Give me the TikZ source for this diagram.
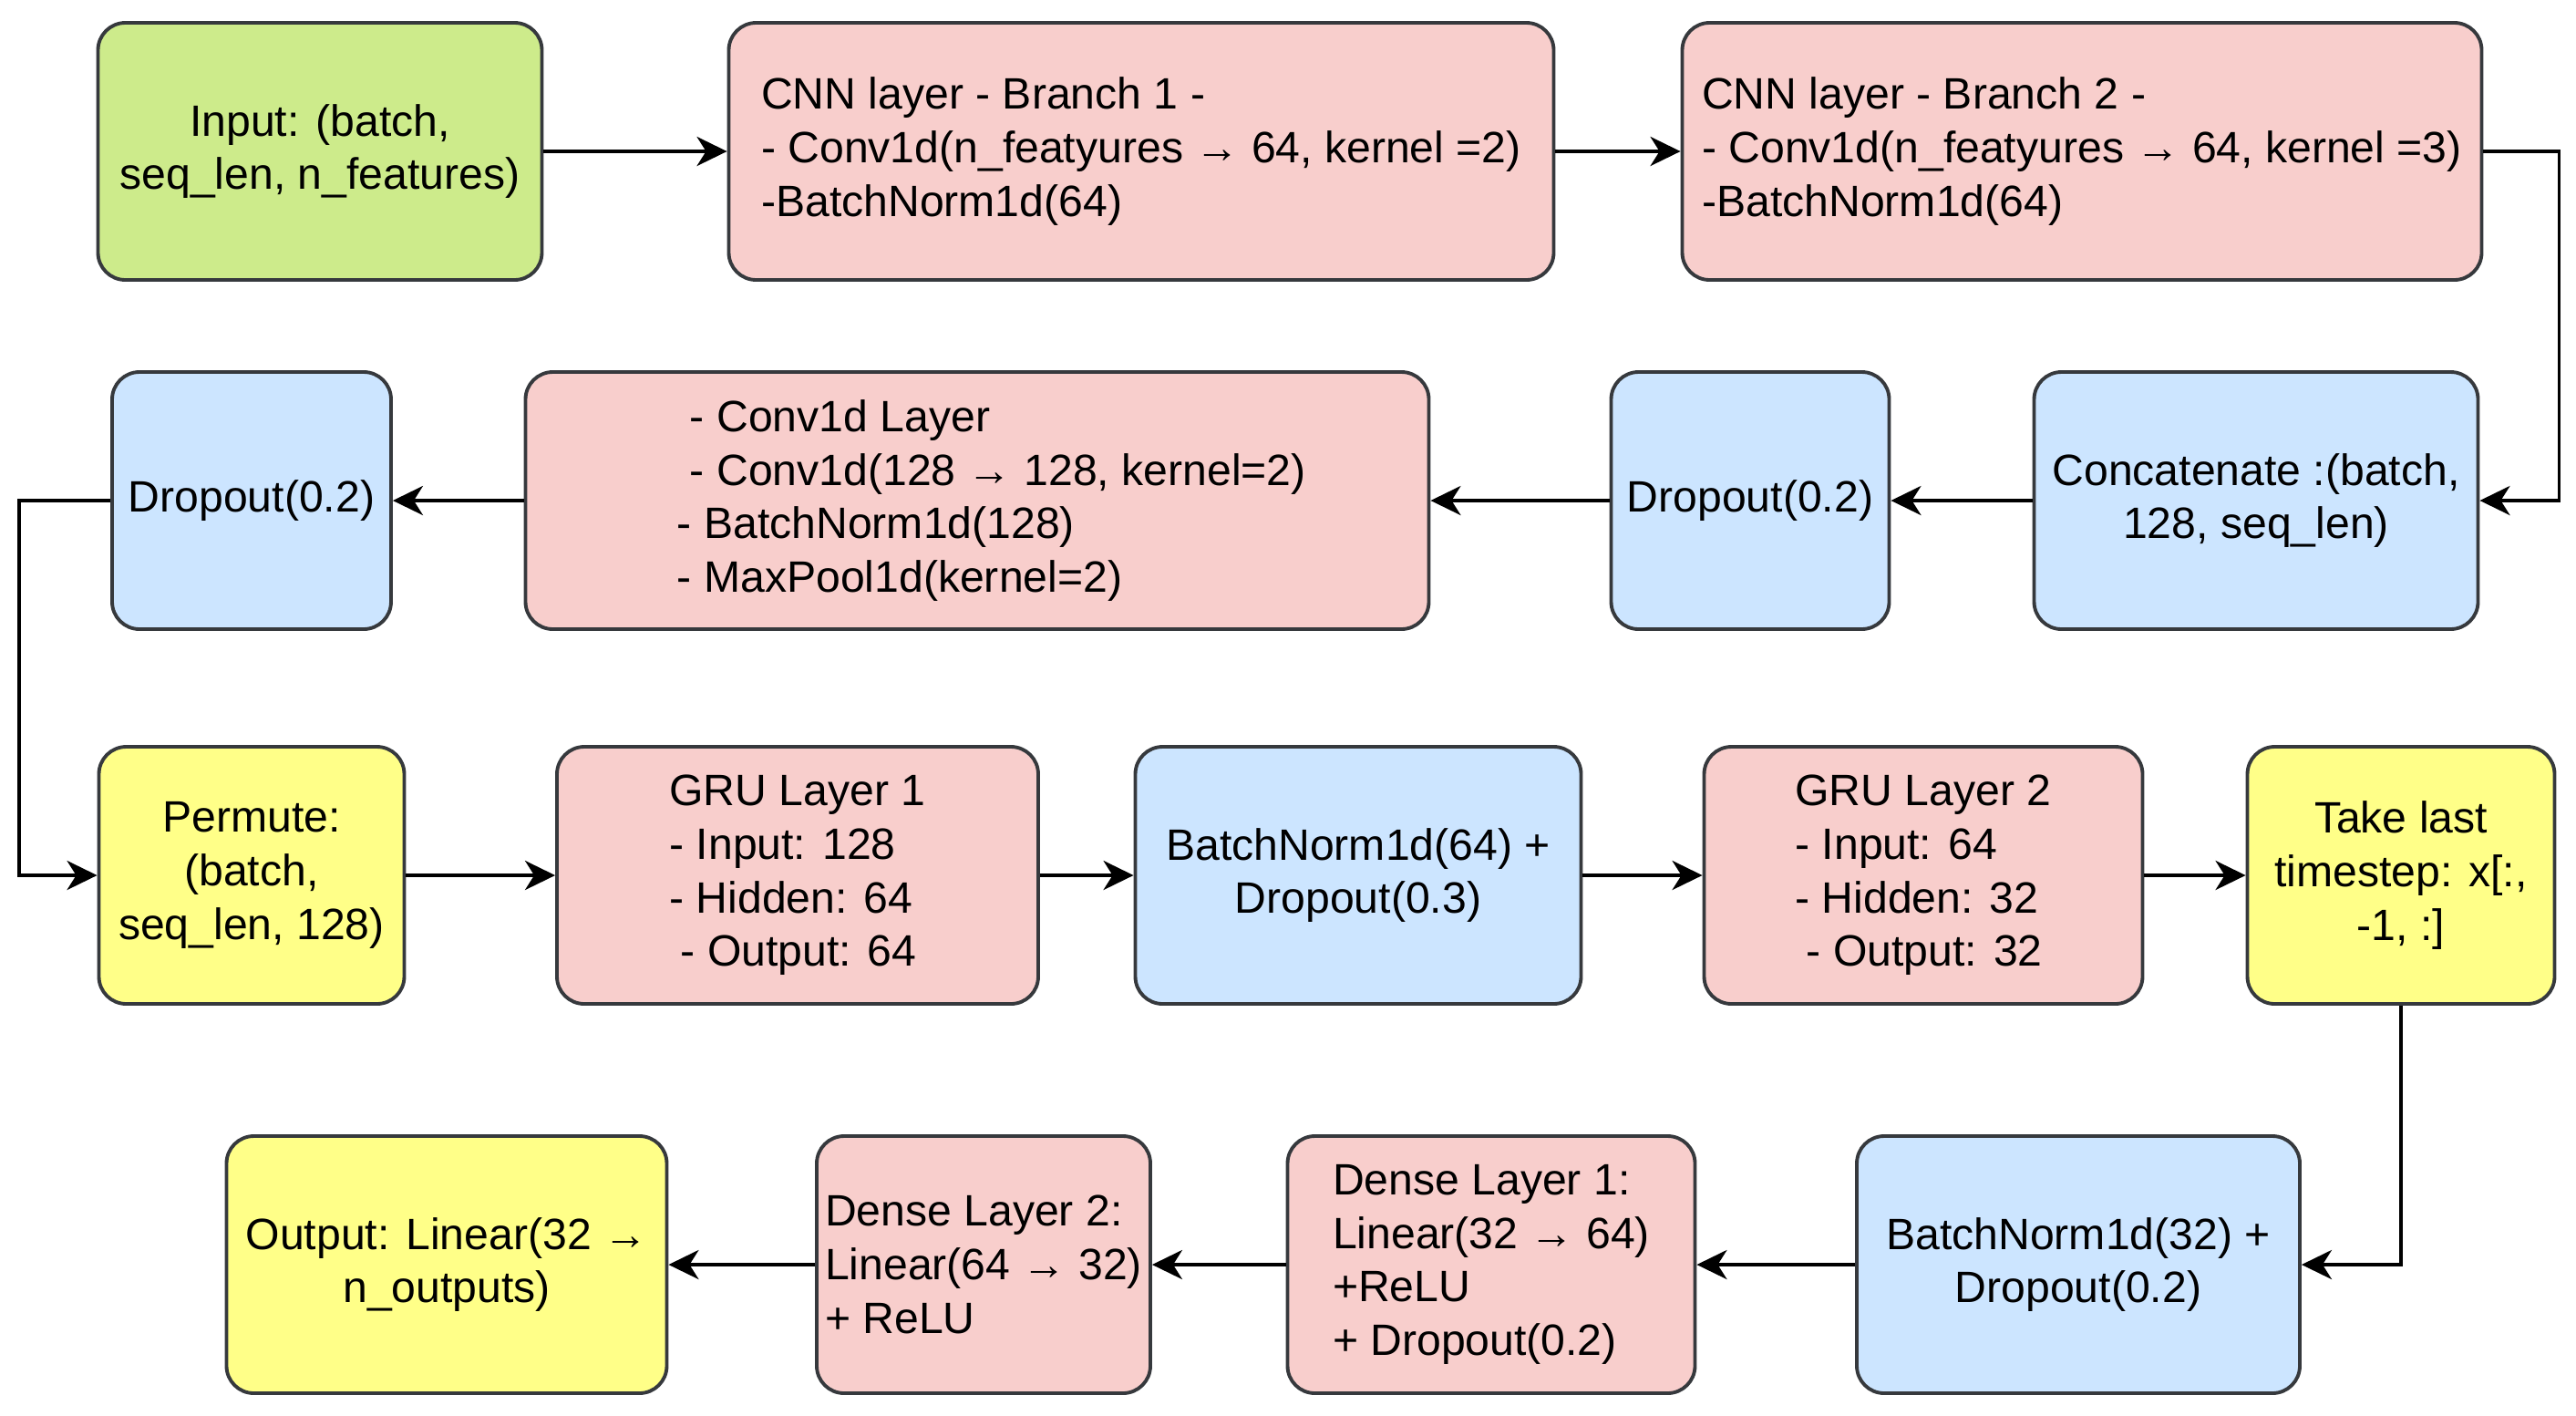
\documentclass[tikz,border=0pt]{standalone}
\usepackage{fontspec}
\setmainfont{Liberation Sans}
\usepackage{tikz}
\usetikzlibrary{arrows.meta}

\definecolor{grnfill}{HTML}{CDEB8B}
\definecolor{pnkfill}{HTML}{F8CECC}
\definecolor{blufill}{HTML}{CCE5FF}
\definecolor{ylwfill}{HTML}{FFFF88}
\definecolor{edgec}{HTML}{36393D}

\begin{document}
\begin{tikzpicture}[
    box/.style={draw=edgec,line width=1.1pt,rounded corners=0.3cm,minimum height=2.82cm,
      inner xsep=2pt,align=center,font=\fontsize{13.7}{16.7}\selectfont},
    inbox/.style={box,fill=grnfill},
    lyr/.style={box,fill=pnkfill},
    regu/.style={box,fill=blufill},
    reshp/.style={box,fill=ylwfill},
    arr/.style={-{Stealth[length=3.3mm,width=3.2mm,inset=1mm]},line width=1.1pt,black}]
  \useasboundingbox (0,0) rectangle (28.26,-15.52);

  \node[inbox,minimum width=4.87cm] (inp) at (3.51,-1.66) {Input: (batch,\\seq\_len, n\_features)};
  \node[lyr,minimum width=9.05cm,align=left] (cnnA) at (12.52,-1.66) {CNN layer - Branch 1 -\\- Conv1d(n\_featyures → 64, kernel =2)\\-BatchNorm1d(64)};
  \node[lyr,minimum width=8.77cm,align=left] (cnnB) at (22.84,-1.66) {CNN layer - Branch 2 -\\- Conv1d(n\_featyures → 64, kernel =3)\\-BatchNorm1d(64)};

  \node[regu,minimum width=3.06cm] (dropL) at (2.76,-5.49) {Dropout(0.2)};
  \node[lyr,minimum width=9.91cm,align=left] (conv) at (10.72,-5.49) {\hspace*{13pt}- Conv1d Layer\\\hspace*{13pt}- Conv1d(128 → 128, kernel=2)\\\hspace*{9pt}- BatchNorm1d(128)\\\hspace*{9pt}- MaxPool1d(kernel=2)};
  \node[regu,minimum width=3.05cm] (dropM) at (19.20,-5.49) {Dropout(0.2)};
  \node[regu,minimum width=4.87cm] (concat) at (24.75,-5.49) {Concatenate :(batch,\\128, seq\_len)};

  \node[reshp,minimum width=3.35cm] (perm) at (2.76,-9.60) {Permute:\\(batch,\\seq\_len, 128)};
  \node[lyr,minimum width=5.28cm,align=left] (gruA) at (8.75,-9.60) {GRU Layer 1\\- Input: 128\\- Hidden: 64\\\hspace*{3.5pt}- Output: 64};
  \node[regu,minimum width=4.89cm] (bnA) at (14.90,-9.60) {BatchNorm1d(64) +\\Dropout(0.3)};
  \node[lyr,minimum width=4.81cm,align=left] (gruB) at (21.10,-9.60) {GRU Layer 2\\- Input: 64\\- Hidden: 32\\\hspace*{3.5pt}- Output: 32};
  \node[reshp,minimum width=3.37cm] (take) at (26.34,-9.60) {Take last\\timestep: x[:,\\-1, :]};

  \node[reshp,minimum width=4.83cm] (outp) at (4.90,-13.87) {Output: Linear(32 →\\n\_outputs)};
  \node[lyr,minimum width=3.66cm,align=left] (denseB) at (10.79,-13.87) {Dense Layer 2:\\Linear(64 → 32)\\+ ReLU};
  \node[lyr,minimum width=4.47cm,align=left] (denseA) at (16.36,-13.87) {Dense Layer 1:\\Linear(32 → 64)\\+ReLU\\+ Dropout(0.2)};
  \node[regu,minimum width=4.86cm] (bnB) at (22.80,-13.87) {BatchNorm1d(32) +\\Dropout(0.2)};

  \draw[arr] (inp) -- (cnnA);
  \draw[arr] (cnnA) -- (cnnB);
  \draw[arr] (cnnB.east) -- ++(0.83,0) |- (concat.east);
  \draw[arr] (concat) -- (dropM);
  \draw[arr] (dropM) -- (conv);
  \draw[arr] (conv) -- (dropL);
  \draw[arr] (dropL.west) -- ++(-1.0,0) |- (perm.west);
  \draw[arr] (perm) -- (gruA);
  \draw[arr] (gruA) -- (bnA);
  \draw[arr] (bnA) -- (gruB);
  \draw[arr] (gruB) -- (take);
  \draw[arr] (take.south) |- (bnB.east);
  \draw[arr] (bnB) -- (denseA);
  \draw[arr] (denseA) -- (denseB);
  \draw[arr] (denseB) -- (outp);
\end{tikzpicture}
\end{document}
